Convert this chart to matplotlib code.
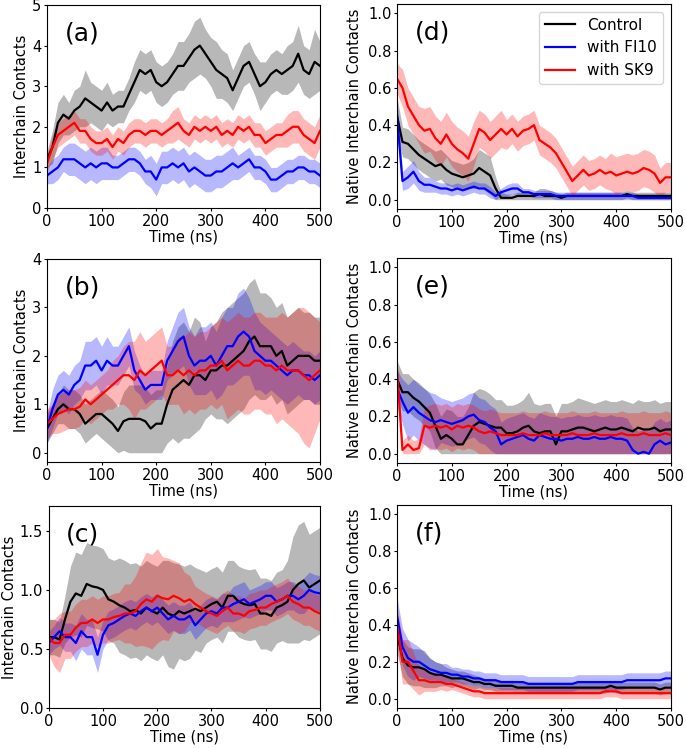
import numpy as np
import matplotlib
matplotlib.use("Agg")
import matplotlib.pyplot as plt

# time grid (ns), one value every 10 ns
time_ns = np.arange(0, 501, 10)

labels = ["Control", "with FI10", "with SK9"]
colors = ["black", "blue", "red"]

# ---- panel (a): interchain contacts ----
a_ctrl = [1.2, 1.5, 2.1, 2.3, 2.2, 2.4, 2.5, 2.7, 2.6, 2.5,
          2.4, 2.6, 2.4, 2.5, 2.5, 2.8, 3.1, 3.4, 3.3, 3.4,
          3.1, 3.0, 3.1, 3.3, 3.5, 3.5, 3.7, 3.9, 4.0, 3.8,
          3.6, 3.4, 3.3, 3.2, 2.9, 3.2, 3.5, 3.6, 3.3, 3.0,
          3.1, 3.3, 3.4, 3.3, 3.4, 3.5, 3.8, 3.4, 3.3, 3.6, 3.5]
a_ctrl_sd = [0.2, 0.4, 0.5, 0.5, 0.4, 0.5, 0.5, 0.7, 0.5, 0.5,
             0.5, 0.5, 0.4, 0.4, 0.4, 0.4, 0.5, 0.5, 0.5, 0.5,
             0.5, 0.5, 0.5, 0.5, 0.6, 0.6, 0.6, 0.7, 0.7, 0.6,
             0.6, 0.7, 0.6, 0.6, 0.5, 0.5, 0.5, 0.5, 0.5, 0.6,
             0.5, 0.5, 0.5, 0.5, 0.6, 0.6, 0.7, 0.6, 0.6, 0.8, 0.6]
a_fi10 = [0.8, 0.9, 1.0, 1.2, 1.2, 1.2, 1.1, 1.0, 1.1, 1.0,
          1.1, 1.1, 1.0, 1.0, 1.1, 1.2, 1.2, 1.1, 0.9, 0.9,
          0.7, 1.0, 1.0, 1.1, 1.0, 1.1, 0.9, 1.0, 0.9, 0.8,
          0.8, 0.9, 0.9, 1.0, 1.1, 1.0, 1.1, 1.2, 1.0, 1.0,
          0.9, 0.7, 0.7, 0.8, 0.9, 0.9, 1.0, 1.0, 0.9, 0.9, 0.8]
a_fi10_sd = [0.2, 0.3, 0.3, 0.3, 0.4, 0.4, 0.4, 0.4, 0.4, 0.4,
             0.4, 0.4, 0.3, 0.3, 0.3, 0.3, 0.3, 0.3, 0.3, 0.4,
             0.4, 0.4, 0.4, 0.4, 0.4, 0.4, 0.4, 0.4, 0.4, 0.4,
             0.4, 0.4, 0.4, 0.4, 0.4, 0.3, 0.3, 0.3, 0.3, 0.3,
             0.3, 0.3, 0.3, 0.3, 0.3, 0.3, 0.3, 0.3, 0.3, 0.3, 0.3]
a_sk9 = [1.1, 1.5, 1.8, 1.9, 2.0, 2.1, 1.9, 1.9, 1.7, 1.6,
         1.6, 1.7, 1.5, 1.7, 1.6, 1.8, 1.9, 1.9, 1.8, 1.9,
         1.9, 1.8, 1.9, 2.0, 2.1, 1.9, 1.8, 2.0, 1.9, 2.0,
         1.9, 2.0, 1.8, 1.9, 1.8, 2.0, 1.9, 2.0, 1.8, 1.8,
         1.6, 1.7, 1.8, 1.8, 1.9, 2.0, 2.0, 1.8, 1.7, 1.6, 1.9]
a_sk9_sd = [0.2, 0.3, 0.3, 0.3, 0.3, 0.3, 0.3, 0.3, 0.3, 0.3,
            0.3, 0.3, 0.3, 0.3, 0.3, 0.3, 0.3, 0.3, 0.3, 0.3,
            0.3, 0.3, 0.3, 0.4, 0.4, 0.3, 0.3, 0.3, 0.3, 0.3,
            0.3, 0.3, 0.3, 0.3, 0.3, 0.3, 0.3, 0.3, 0.3, 0.3,
            0.3, 0.3, 0.3, 0.3, 0.4, 0.4, 0.4, 0.4, 0.4, 0.4, 0.4]

# ---- panel (b) ----
b_ctrl = [0.5, 0.7, 0.9, 1.0, 0.9, 0.9, 0.8, 0.6, 0.7, 0.8,
          0.8, 0.7, 0.6, 0.45, 0.65, 0.7, 0.7, 0.7, 0.65, 0.5,
          0.6, 0.6, 1.0, 1.3, 1.4, 1.5, 1.4, 1.6, 1.6, 1.5,
          1.7, 1.7, 1.8, 1.8, 1.9, 2.0, 2.1, 2.3, 2.4, 2.2,
          2.2, 2.2, 2.0, 2.1, 1.8, 1.9, 2.0, 2.0, 2.0, 1.9, 1.9]
b_ctrl_sd = [0.3, 0.3, 0.3, 0.4, 0.4, 0.4, 0.4, 0.4, 0.4, 0.4,
             0.5, 0.5, 0.5, 0.5, 0.6, 0.7, 0.7, 0.7, 0.7, 0.7,
             0.7, 0.7, 0.8, 1.0, 1.2, 1.2, 1.1, 1.2, 1.1, 0.8,
             0.9, 1.0, 1.1, 1.2, 1.2, 1.2, 1.2, 1.2, 1.2, 1.1,
             1.1, 1.0, 1.0, 1.0, 1.0, 1.0, 1.0, 0.9, 0.9, 0.9, 0.9]
b_fi10 = [0.5, 0.9, 1.2, 1.3, 1.2, 1.4, 1.5, 1.8, 1.8, 1.9,
          1.7, 1.9, 1.8, 1.8, 2.0, 2.2, 1.7, 1.5, 1.3, 1.4,
          1.4, 1.4, 1.9, 2.1, 2.3, 2.4, 2.0, 1.8, 1.9, 1.9,
          2.0, 1.8, 2.0, 2.2, 2.2, 2.4, 2.5, 2.4, 2.1, 2.0,
          1.9, 1.9, 1.8, 1.7, 1.6, 1.7, 1.7, 1.6, 1.6, 1.5, 1.6]
b_fi10_sd = [0.3, 0.4, 0.4, 0.4, 0.4, 0.4, 0.4, 0.5, 0.5, 0.5,
             0.5, 0.5, 0.4, 0.4, 0.4, 0.4, 0.4, 0.3, 0.3, 0.3,
             0.3, 0.3, 0.4, 0.5, 0.6, 0.6, 0.6, 0.6, 0.7, 0.7,
             0.7, 0.7, 0.8, 0.8, 0.8, 0.9, 0.9, 0.8, 0.8, 0.7,
             0.7, 0.6, 0.6, 0.6, 0.6, 0.6, 0.5, 0.5, 0.5, 0.5, 0.5]
b_sk9 = [0.6, 0.7, 0.8, 0.85, 0.9, 0.9, 0.95, 1.1, 1.0, 1.1,
         1.2, 1.3, 1.4, 1.5, 1.6, 1.6, 1.5, 1.7, 1.6, 1.7,
         1.8, 1.9, 1.6, 1.6, 1.7, 1.6, 1.7, 1.6, 1.7, 1.7,
         1.8, 1.8, 1.9, 1.7, 1.8, 1.9, 1.8, 1.8, 1.9, 1.9,
         1.8, 1.8, 1.7, 1.8, 1.7, 1.7, 1.7, 1.6, 1.5, 1.6, 1.7]
b_sk9_sd = [0.3, 0.3, 0.4, 0.4, 0.4, 0.4, 0.4, 0.4, 0.4, 0.4,
            0.4, 0.4, 0.5, 0.5, 0.6, 0.7, 0.8, 0.8, 0.7, 0.7,
            0.7, 0.7, 0.6, 0.6, 0.7, 0.8, 0.8, 0.8, 0.8, 0.8,
            0.8, 0.9, 0.9, 1.0, 1.0, 1.0, 1.0, 1.0, 1.0, 1.0,
            1.0, 1.0, 1.1, 1.1, 1.1, 1.2, 1.3, 1.4, 1.4, 1.2, 1.0]

# ---- panel (c) ----
c_ctrl = [0.6, 0.6, 0.58, 0.75, 0.9, 0.97, 0.95, 1.05, 1.03, 1.02,
          1.0, 0.92, 0.9, 0.87, 0.85, 0.82, 0.83, 0.8, 0.85, 0.82,
          0.8, 0.85, 0.8, 0.78, 0.82, 0.8, 0.82, 0.84, 0.82, 0.85,
          0.88, 0.9, 0.85, 0.95, 0.95, 0.9, 0.88, 0.87, 0.88, 0.8,
          0.8, 0.78, 0.85, 0.87, 0.9, 1.0, 1.05, 1.08, 1.02, 1.05, 1.08]
c_ctrl_sd = [0.15, 0.15, 0.15, 0.2, 0.3, 0.35, 0.35, 0.35, 0.35, 0.35,
             0.35, 0.35, 0.35, 0.4, 0.4, 0.4, 0.4, 0.4, 0.4, 0.4,
             0.4, 0.4, 0.45, 0.45, 0.4, 0.4, 0.4, 0.35, 0.35, 0.3,
             0.3, 0.3, 0.3, 0.3, 0.3, 0.3, 0.3, 0.3, 0.3, 0.3,
             0.3, 0.3, 0.3, 0.3, 0.35, 0.45, 0.5, 0.5, 0.45, 0.45, 0.45]
c_fi10 = [0.55, 0.6, 0.65, 0.6, 0.6, 0.55, 0.65, 0.6, 0.6, 0.45,
          0.62, 0.7, 0.72, 0.75, 0.78, 0.8, 0.78, 0.82, 0.85, 0.82,
          0.85, 0.8, 0.75, 0.78, 0.75, 0.75, 0.78, 0.7, 0.75, 0.8,
          0.82, 0.8, 0.85, 0.85, 0.88, 0.9, 0.92, 0.88, 0.9, 0.92,
          0.95, 0.95, 0.9, 0.92, 0.95, 0.95, 0.92, 0.95, 1.0, 0.98, 0.97]
c_fi10_sd = [0.1, 0.1, 0.12, 0.12, 0.12, 0.15, 0.15, 0.15, 0.15, 0.15,
             0.12, 0.12, 0.12, 0.12, 0.12, 0.12, 0.12, 0.12, 0.12, 0.12,
             0.12, 0.12, 0.12, 0.12, 0.12, 0.12, 0.12, 0.12, 0.12, 0.12,
             0.12, 0.12, 0.12, 0.12, 0.15, 0.15, 0.15, 0.12, 0.12, 0.12,
             0.12, 0.12, 0.12, 0.12, 0.12, 0.12, 0.12, 0.15, 0.15, 0.15, 0.15]
c_sk9 = [0.6, 0.55, 0.55, 0.62, 0.62, 0.68, 0.72, 0.72, 0.75, 0.72,
         0.75, 0.75, 0.77, 0.78, 0.8, 0.8, 0.82, 0.88, 0.92, 0.9,
         0.95, 0.93, 0.92, 0.95, 0.93, 0.9, 0.92, 0.88, 0.85, 0.82,
         0.8, 0.78, 0.82, 0.85, 0.8, 0.8, 0.78, 0.82, 0.83, 0.85,
         0.85, 0.88, 0.9, 0.92, 0.95, 0.9, 0.88, 0.85, 0.85, 0.82, 0.8]
c_sk9_sd = [0.15, 0.2, 0.25, 0.2, 0.2, 0.2, 0.2, 0.2, 0.2, 0.2,
            0.2, 0.2, 0.2, 0.2, 0.25, 0.25, 0.3, 0.35, 0.4, 0.4,
            0.4, 0.35, 0.35, 0.3, 0.3, 0.25, 0.2, 0.15, 0.15, 0.15,
            0.15, 0.15, 0.15, 0.15, 0.15, 0.15, 0.15, 0.15, 0.15, 0.15,
            0.15, 0.15, 0.15, 0.15, 0.15, 0.15, 0.15, 0.15, 0.15, 0.15, 0.15]

# ---- panel (d): native interchain contacts ----
d_ctrl = [0.45, 0.31, 0.3, 0.27, 0.24, 0.22, 0.2, 0.18, 0.19, 0.16,
          0.14, 0.13, 0.12, 0.13, 0.14, 0.17, 0.15, 0.13, 0.06, 0.01,
          0.01, 0.01, 0.02, 0.02, 0.02, 0.02, 0.03, 0.02, 0.02, 0.02,
          0.01, 0.02, 0.02, 0.02, 0.02, 0.02, 0.02, 0.02, 0.02, 0.02,
          0.02, 0.02, 0.03, 0.02, 0.02, 0.02, 0.02, 0.02, 0.02, 0.02, 0.02]
d_ctrl_sd = [0.1, 0.08, 0.08, 0.08, 0.08, 0.08, 0.08, 0.08, 0.08, 0.08,
             0.07, 0.07, 0.07, 0.07, 0.08, 0.1, 0.1, 0.1, 0.06, 0.03,
             0.02, 0.02, 0.02, 0.02, 0.02, 0.02, 0.03, 0.04, 0.03, 0.02,
             0.02, 0.02, 0.02, 0.02, 0.02, 0.02, 0.02, 0.02, 0.02, 0.02,
             0.02, 0.02, 0.02, 0.02, 0.02, 0.02, 0.02, 0.02, 0.02, 0.02, 0.02]
d_fi10 = [0.45, 0.1, 0.12, 0.15, 0.1, 0.08, 0.08, 0.07, 0.06, 0.06,
          0.05, 0.06, 0.05, 0.06, 0.07, 0.06, 0.06, 0.04, 0.02, 0.04,
          0.05, 0.06, 0.06, 0.04, 0.04, 0.03, 0.03, 0.03, 0.03, 0.02,
          0.02, 0.02, 0.02, 0.02, 0.02, 0.02, 0.02, 0.02, 0.02, 0.02,
          0.02, 0.02, 0.02, 0.02, 0.01, 0.01, 0.01, 0.01, 0.01, 0.01, 0.01]
d_fi10_sd = [0.1, 0.05, 0.06, 0.06, 0.05, 0.04, 0.04, 0.03, 0.03, 0.03,
             0.03, 0.03, 0.03, 0.03, 0.03, 0.03, 0.03, 0.03, 0.02, 0.02,
             0.03, 0.03, 0.03, 0.02, 0.02, 0.02, 0.02, 0.02, 0.02, 0.02,
             0.02, 0.02, 0.02, 0.02, 0.02, 0.02, 0.02, 0.02, 0.02, 0.02,
             0.02, 0.02, 0.02, 0.02, 0.02, 0.02, 0.02, 0.02, 0.02, 0.02, 0.02]
d_sk9 = [0.65, 0.6, 0.5, 0.45, 0.4, 0.37, 0.38, 0.33, 0.3, 0.35,
         0.3, 0.27, 0.25, 0.22, 0.3, 0.38, 0.36, 0.32, 0.35, 0.38,
         0.35, 0.38, 0.34, 0.37, 0.38, 0.4, 0.32, 0.3, 0.28, 0.25,
         0.2, 0.15, 0.1, 0.13, 0.16, 0.13, 0.14, 0.16, 0.14, 0.15,
         0.13, 0.14, 0.15, 0.14, 0.15, 0.17, 0.16, 0.14, 0.09, 0.12, 0.12]
d_sk9_sd = [0.08, 0.1, 0.1, 0.1, 0.1, 0.12, 0.12, 0.12, 0.12, 0.12,
            0.12, 0.12, 0.12, 0.12, 0.12, 0.1, 0.1, 0.1, 0.1, 0.1,
            0.08, 0.08, 0.08, 0.08, 0.08, 0.08, 0.08, 0.08, 0.08, 0.08,
            0.08, 0.08, 0.08, 0.08, 0.08, 0.08, 0.08, 0.08, 0.08, 0.1,
            0.1, 0.1, 0.1, 0.1, 0.1, 0.1, 0.1, 0.1, 0.08, 0.08, 0.08]

# ---- panel (e) ----
e_ctrl = [0.4, 0.33, 0.33, 0.3, 0.28, 0.25, 0.22, 0.15, 0.08, 0.1,
          0.08, 0.05, 0.05, 0.1, 0.15, 0.17, 0.16, 0.15, 0.14, 0.14,
          0.11, 0.11, 0.12, 0.14, 0.15, 0.12, 0.11, 0.12, 0.12, 0.05,
          0.12, 0.12, 0.13, 0.14, 0.14, 0.13, 0.12, 0.13, 0.14, 0.13,
          0.13, 0.14, 0.13, 0.12, 0.14, 0.13, 0.13, 0.14, 0.12, 0.13, 0.13]
e_ctrl_sd = [0.1, 0.1, 0.1, 0.1, 0.1, 0.1, 0.1, 0.12, 0.12, 0.14,
             0.15, 0.15, 0.15, 0.15, 0.18, 0.18, 0.18, 0.17, 0.15, 0.15,
             0.15, 0.15, 0.15, 0.15, 0.18, 0.15, 0.15, 0.15, 0.15, 0.15,
             0.15, 0.15, 0.15, 0.16, 0.15, 0.15, 0.15, 0.15, 0.15, 0.15,
             0.15, 0.15, 0.15, 0.15, 0.15, 0.15, 0.15, 0.15, 0.15, 0.15, 0.15]
e_fi10 = [0.35, 0.28, 0.22, 0.25, 0.22, 0.2, 0.18, 0.17, 0.18, 0.17,
          0.16, 0.17, 0.18, 0.2, 0.21, 0.18, 0.17, 0.14, 0.12, 0.05,
          0.07, 0.08, 0.09, 0.1, 0.08, 0.07, 0.1, 0.09, 0.08, 0.08,
          0.07, 0.08, 0.08, 0.09, 0.08, 0.08, 0.09, 0.08, 0.08, 0.09,
          0.08, 0.08, 0.07, 0.02, 0.0, 0.01, 0.0, 0.05, 0.07, 0.05, 0.06]
e_fi10_sd = [0.1, 0.12, 0.15, 0.15, 0.15, 0.15, 0.15, 0.15, 0.12, 0.12,
             0.12, 0.12, 0.12, 0.12, 0.12, 0.12, 0.12, 0.12, 0.12, 0.12,
             0.12, 0.12, 0.12, 0.12, 0.12, 0.12, 0.12, 0.12, 0.12, 0.12,
             0.12, 0.12, 0.12, 0.12, 0.12, 0.12, 0.12, 0.12, 0.12, 0.12,
             0.12, 0.12, 0.12, 0.12, 0.12, 0.12, 0.12, 0.12, 0.12, 0.12, 0.12]
e_sk9 = [0.45, 0.02, 0.05, 0.02, 0.03, 0.15, 0.14, 0.15, 0.14, 0.15,
         0.13, 0.15, 0.14, 0.15, 0.14, 0.12, 0.11, 0.12, 0.11, 0.1,
         0.1, 0.1, 0.1, 0.11, 0.1, 0.1, 0.1, 0.11, 0.1, 0.1,
         0.1, 0.1, 0.11, 0.1, 0.1, 0.1, 0.11, 0.1, 0.1, 0.1,
         0.1, 0.11, 0.1, 0.1, 0.1, 0.11, 0.1, 0.1, 0.1, 0.11, 0.1]
e_sk9_sd = [0.05, 0.05, 0.05, 0.05, 0.05, 0.1, 0.12, 0.12, 0.12, 0.12,
            0.12, 0.12, 0.12, 0.12, 0.12, 0.12, 0.12, 0.12, 0.12, 0.12,
            0.12, 0.12, 0.12, 0.12, 0.12, 0.12, 0.12, 0.12, 0.12, 0.12,
            0.12, 0.12, 0.12, 0.12, 0.12, 0.12, 0.12, 0.12, 0.12, 0.12,
            0.12, 0.12, 0.12, 0.12, 0.12, 0.12, 0.12, 0.12, 0.12, 0.12, 0.12]

# ---- panel (f) ----
f_ctrl = [0.35, 0.22, 0.18, 0.17, 0.17, 0.16, 0.14, 0.13, 0.13, 0.12,
          0.11, 0.11, 0.11, 0.1, 0.09, 0.09, 0.08, 0.08, 0.07, 0.07,
          0.07, 0.07, 0.06, 0.06, 0.06, 0.06, 0.06, 0.06, 0.06, 0.06,
          0.06, 0.06, 0.06, 0.06, 0.06, 0.06, 0.06, 0.06, 0.06, 0.07,
          0.06, 0.06, 0.06, 0.06, 0.06, 0.06, 0.06, 0.06, 0.05, 0.06, 0.06]
f_ctrl_sd = [0.1, 0.1, 0.1, 0.1, 0.1, 0.1, 0.08, 0.07, 0.06, 0.05,
             0.05, 0.04, 0.04, 0.04, 0.04, 0.03, 0.03, 0.03, 0.03, 0.03,
             0.03, 0.03, 0.03, 0.03, 0.03, 0.03, 0.03, 0.03, 0.03, 0.03,
             0.03, 0.03, 0.03, 0.03, 0.03, 0.03, 0.03, 0.03, 0.03, 0.03,
             0.03, 0.03, 0.03, 0.03, 0.03, 0.03, 0.03, 0.03, 0.03, 0.03, 0.03]
f_fi10 = [0.45, 0.28, 0.22, 0.2, 0.2, 0.18, 0.16, 0.15, 0.14, 0.14,
          0.13, 0.13, 0.12, 0.12, 0.11, 0.11, 0.1, 0.1, 0.1, 0.09,
          0.09, 0.09, 0.09, 0.09, 0.08, 0.08, 0.08, 0.08, 0.08, 0.08,
          0.08, 0.08, 0.08, 0.09, 0.09, 0.09, 0.09, 0.09, 0.09, 0.09,
          0.09, 0.09, 0.1, 0.1, 0.1, 0.1, 0.1, 0.1, 0.1, 0.11, 0.11]
f_fi10_sd = [0.1, 0.1, 0.1, 0.1, 0.08, 0.07, 0.06, 0.05, 0.05, 0.05,
             0.04, 0.04, 0.04, 0.04, 0.04, 0.04, 0.04, 0.04, 0.04, 0.04,
             0.04, 0.04, 0.04, 0.04, 0.04, 0.04, 0.04, 0.04, 0.04, 0.04,
             0.04, 0.04, 0.04, 0.04, 0.04, 0.04, 0.04, 0.04, 0.04, 0.04,
             0.04, 0.04, 0.04, 0.04, 0.04, 0.04, 0.04, 0.04, 0.04, 0.04, 0.04]
f_sk9 = [0.4, 0.2, 0.2, 0.15, 0.1, 0.1, 0.09, 0.09, 0.09, 0.08,
         0.08, 0.07, 0.06, 0.05, 0.04, 0.04, 0.03, 0.03, 0.03, 0.03,
         0.03, 0.03, 0.03, 0.03, 0.03, 0.03, 0.03, 0.03, 0.03, 0.03,
         0.03, 0.03, 0.03, 0.03, 0.03, 0.03, 0.03, 0.03, 0.04, 0.04,
         0.04, 0.03, 0.03, 0.03, 0.03, 0.03, 0.03, 0.03, 0.03, 0.03, 0.03]
f_sk9_sd = [0.1, 0.12, 0.12, 0.1, 0.08, 0.06, 0.05, 0.05, 0.04, 0.04,
            0.03, 0.03, 0.03, 0.03, 0.03, 0.03, 0.03, 0.03, 0.03, 0.03,
            0.03, 0.03, 0.03, 0.03, 0.03, 0.03, 0.03, 0.03, 0.03, 0.03,
            0.03, 0.03, 0.03, 0.03, 0.03, 0.03, 0.03, 0.03, 0.03, 0.03,
            0.03, 0.03, 0.03, 0.03, 0.03, 0.03, 0.03, 0.03, 0.03, 0.03, 0.03]

panels = [
    ("(a)", [(a_ctrl, a_ctrl_sd), (a_fi10, a_fi10_sd), (a_sk9, a_sk9_sd)]),
    ("(b)", [(b_ctrl, b_ctrl_sd), (b_fi10, b_fi10_sd), (b_sk9, b_sk9_sd)]),
    ("(c)", [(c_ctrl, c_ctrl_sd), (c_fi10, c_fi10_sd), (c_sk9, c_sk9_sd)]),
    ("(d)", [(d_ctrl, d_ctrl_sd), (d_fi10, d_fi10_sd), (d_sk9, d_sk9_sd)]),
    ("(e)", [(e_ctrl, e_ctrl_sd), (e_fi10, e_fi10_sd), (e_sk9, e_sk9_sd)]),
    ("(f)", [(f_ctrl, f_ctrl_sd), (f_fi10, f_fi10_sd), (f_sk9, f_sk9_sd)]),
]

# axes boxes in figure fraction [left, bottom, width, height]
boxes = [
    [0.0685, 0.7219, 0.398, 0.2714],
    [0.0685, 0.3824, 0.398, 0.2714],
    [0.0710, 0.0535, 0.3955, 0.270],
    [0.5787, 0.7206, 0.3994, 0.274],
    [0.5787, 0.3810, 0.3994, 0.274],
    [0.5787, 0.0535, 0.3994, 0.272],
]
ylims = [(0, 5), (-0.19, 4.0), (0, 1.71), (-0.05, 1.05), (-0.05, 1.05), (-0.05, 1.05)]
yticks = [np.arange(0, 6, 1), np.arange(0, 5, 1), np.arange(0, 1.6, 0.5),
          np.arange(0, 1.01, 0.2), np.arange(0, 1.01, 0.2), np.arange(0, 1.01, 0.2)]

plt.rcParams["font.size"] = 10
fig = plt.figure(figsize=(6.86, 7.48), dpi=100)

for i, (tag, series) in enumerate(panels):
    ax = fig.add_axes(boxes[i])
    for (mean, sd), col, lab in zip(series, colors, labels):
        mean = np.array(mean)
        sd = np.array(sd)
        lo = np.clip(mean - sd, 0, None)
        ax.fill_between(time_ns, lo, mean + sd, color=col, alpha=0.28, lw=0)
        ax.plot(time_ns, mean, color=col, lw=1.6, label=lab)
    ax.set_xlim(0, 500)
    ax.set_ylim(*ylims[i])
    ax.set_yticks(yticks[i])
    if i == 2:
        ax.set_yticklabels(["0.0", "0.5", "1.0", "1.5"])
    ax.set_xticks([0, 100, 200, 300, 400, 500])
    ax.tick_params(length=2.5, pad=1.5, labelsize=10.5)
    ax.set_xlabel("Time (ns)", labelpad=1, fontsize=10.5)
    if i < 3:
        ax.set_ylabel("Interchain Contacts", labelpad=2, fontsize=10.5)
    else:
        ax.set_ylabel("Native Interchain Contacts", labelpad=4, fontsize=10.5)
    ax.text(0.065, 0.86, tag, transform=ax.transAxes, fontsize=18, va="center")
    if i == 3:
        ax.legend(loc="upper right", fontsize=11)

fig.savefig("out.png", dpi=100)
